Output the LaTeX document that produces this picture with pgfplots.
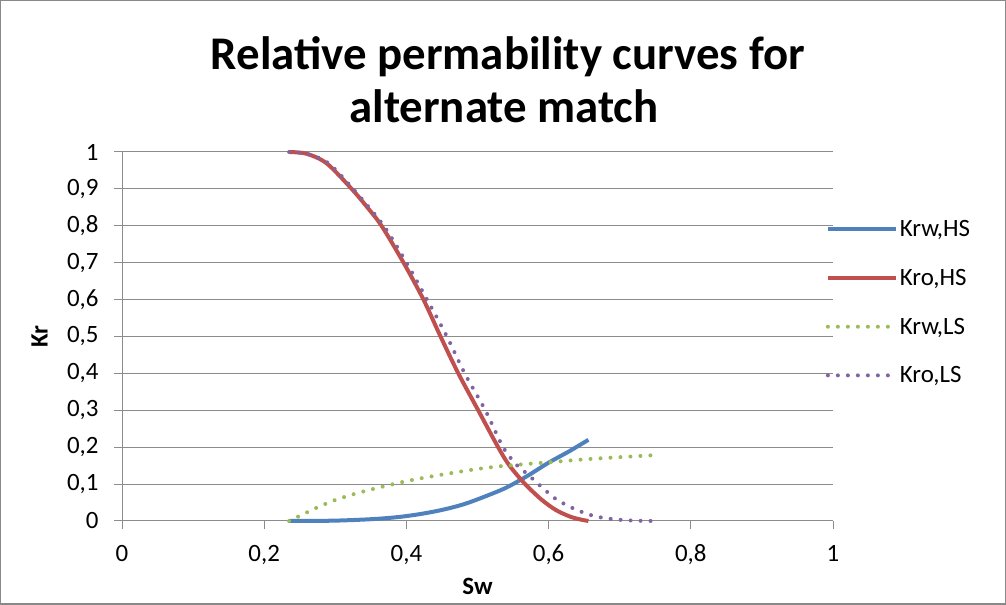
\documentclass[border=0pt]{standalone}
\usepackage{fontspec}
\setmainfont{Carlito}
\usepackage{pgfplots}
\pgfplotsset{compat=1.18}
\definecolor{sblue}{HTML}{4F81BD}
\definecolor{sred}{HTML}{C0504D}
\definecolor{sgreen}{HTML}{9BBB59}
\definecolor{spurple}{HTML}{8064A2}
\definecolor{gridgray}{HTML}{8C8C8C}
\definecolor{framegray}{HTML}{898989}
\begin{document}
\begin{tikzpicture}[x=1bp,y=1bp]
\draw[framegray, line width=1.5bp] (0.75,0.75) rectangle (1005.25,604.25);
\node[font=\bfseries\fontsize{47}{52}\selectfont, anchor=base] at (508,535) {Relative permability curves for};
\node[font=\bfseries\fontsize{47}{52}\selectfont, anchor=base] at (504,482) {alternate match};
\begin{axis}[
  at={(122bp,84bp)}, anchor=south west,
  scale only axis, width=711bp, height=369bp,
  xmin=0, xmax=1, ymin=0, ymax=1,
  axis x line*=bottom, axis y line*=left,
  axis line style={draw=gridgray, line width=1bp},
  xtick={0,0.2,0.4,0.6,0.8,1},
  ytick={0,0.1,0.2,0.3,0.4,0.5,0.6,0.7,0.8,0.9,1},
  tick align=outside, major tick length=8bp,
  tick style={draw=gridgray, line width=1bp},
  ymajorgrids, grid style={draw=gridgray, line width=1bp},
  /pgf/number format/use comma,
  /pgf/number format/assume math mode=true,
  tick label style={font=\fontsize{25}{30}\selectfont},
  xticklabel style={anchor=base, yshift=-33bp},
  yticklabel style={xshift=-12bp},
  xlabel={\textbf{Sw}}, ylabel={\textbf{Kr}},
  xlabel style={at={(axis description cs:0.5,-0.2005)}, anchor=base, font=\fontsize{25}{30}\selectfont},
  ylabel style={at={(axis description cs:-0.116,0.5)}, anchor=center, font=\fontsize{25}{30}\selectfont},
  legend style={at={(axis description cs:0.9897,0.82)}, anchor=north west, draw=none, fill=none,
    inner sep=0pt, font=\fontsize{25}{30}\selectfont, row sep=27bp},
  legend cell align=left,
  legend image code/.code={\draw[#1] (0bp,0bp) -- (68bp,0bp);},
  clip=false,
]
\addplot[sblue, line width=4bp, smooth] coordinates {
(0.235,0.000) (0.27,0.0002) (0.30,0.001) (0.33,0.003) (0.36,0.006) (0.39,0.011)
(0.42,0.019) (0.45,0.030) (0.48,0.045) (0.51,0.066) (0.54,0.090) (0.57,0.122)
(0.60,0.158) (0.63,0.190) (0.656,0.220)};
\addlegendentry{Krw,HS}
\addplot[sred, line width=4bp, smooth] coordinates {
(0.235,1.000) (0.26,0.995) (0.288,0.969) (0.323,0.900) (0.345,0.850) (0.365,0.800)
(0.396,0.700) (0.424,0.600) (0.448,0.500) (0.473,0.400) (0.501,0.300) (0.529,0.200)
(0.545,0.150) (0.567,0.100) (0.59,0.058) (0.61,0.030) (0.63,0.012) (0.645,0.004) (0.656,0.000)};
\addlegendentry{Kro,HS}
\addplot[sgreen, line width=4bp, line cap=round, dash pattern=on 0bp off 10bp, smooth] coordinates {
(0.235,0) (0.25,0.014) (0.275,0.037) (0.30,0.057) (0.33,0.075) (0.36,0.090)
(0.40,0.108) (0.43,0.119) (0.47,0.132) (0.50,0.141) (0.53,0.148) (0.56,0.153)
(0.60,0.159) (0.65,0.167) (0.70,0.173) (0.745,0.178)};
\addlegendentry{Krw,LS}
\addplot[spurple, line width=4bp, line cap=round, dash pattern=on 0bp off 10bp, smooth] coordinates {
(0.235,1.000) (0.26,0.995) (0.29,0.970) (0.325,0.900) (0.368,0.800) (0.400,0.700)
(0.429,0.600) (0.457,0.500) (0.482,0.400) (0.511,0.300) (0.536,0.200) (0.555,0.152)
(0.569,0.129) (0.588,0.096) (0.610,0.060) (0.636,0.033) (0.663,0.014) (0.69,0.005)
(0.72,0.001) (0.75,0.000)};
\addlegendentry{Kro,LS}
\end{axis}
\end{tikzpicture}
\end{document}
